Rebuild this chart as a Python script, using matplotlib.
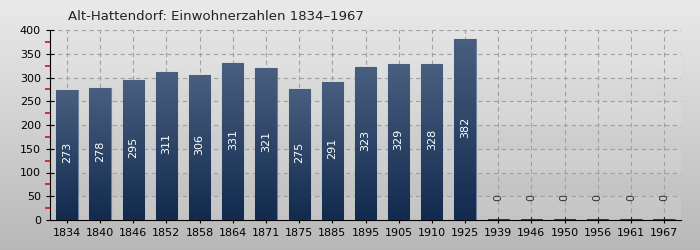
import numpy as np
import matplotlib.pyplot as plt
from matplotlib.colors import LinearSegmentedColormap
from matplotlib.ticker import MultipleLocator

jahre = ['1834', '1840', '1846', '1852', '1858', '1864', '1871', '1875', '1885', '1895',
         '1905', '1910', '1925', '1939', '1946', '1950', '1956', '1961', '1967']
einwohner = [273, 278, 295, 311, 306, 331, 321, 275, 291, 323,
             329, 328, 382, 0, 0, 0, 0, 0, 0]

fig = plt.figure(figsize=(7, 2.5), dpi=100)

# hintergrund mit verlauf
bg = fig.add_axes([0, 0, 1, 1])
grad = np.linspace(0, 1, 256).reshape(-1, 1)
bg.imshow(grad, cmap=LinearSegmentedColormap.from_list('bg', ['#eaeaea', '#b8b8b8']),
          aspect='auto', extent=[0, 1, 0, 1], origin='upper')
bg.axis('off')

ax = fig.add_axes([50 / 700, 30 / 250, 631 / 700, 190 / 250])
ax.patch.set_alpha(0)

# leichte streifen im plotbereich
for k in range(0, 400, 100):
    ax.axhspan(k, k + 50, color='white', alpha=0.10, zorder=0)

x = np.arange(len(jahre))
bw = 0.64
cmap_bar = LinearSegmentedColormap.from_list('bar', ['#112a4d', '#495f80'])
for i, v in enumerate(einwohner):
    h = max(v, 2)
    b = ax.bar(x[i], h, width=bw, color='#2a4060', edgecolor='#6d819b', linewidth=0.8, zorder=3)[0]
    img = ax.imshow(np.linspace(0, 1, 100).reshape(-1, 1), cmap=cmap_bar, origin='lower',
                    extent=[x[i] - bw / 2, x[i] + bw / 2, 0, h], aspect='auto', zorder=3.5)
    img.set_clip_path(b)
    if v > 0:
        ax.text(x[i], v / 2 + 5, str(v), rotation=90, ha='center', va='center',
                color='white', fontsize=8, zorder=5)
    else:
        ax.text(x[i], 48, str(v), rotation=90, ha='center', va='center',
                color='#333333', fontsize=8, zorder=5)

ax.set_xlim(-0.51, len(jahre) - 0.49)
ax.set_ylim(0, 400)
ax.set_xticks(x)
ax.set_xticklabels(jahre, fontsize=8)
ax.yaxis.set_major_locator(MultipleLocator(50))
ax.yaxis.set_minor_locator(MultipleLocator(25))
ax.tick_params(axis='y', labelsize=8, direction='inout', length=6)
ax.tick_params(axis='y', which='minor', color='red', length=3.5, width=1.2, direction='out')
ax.tick_params(axis='x', direction='inout', length=5)
ax.grid(True, which='major', color='#a0a0a0', linestyle=(0, (4, 3)), linewidth=0.8, zorder=1)
ax.set_axisbelow(True)
for s in ['top', 'right']:
    ax.spines[s].set_visible(False)

fig.text(68 / 700, 1 - 16 / 250, 'Alt-Hattendorf: Einwohnerzahlen 1834\u20131967',
         fontsize=9.5, color='#222222', va='center')

fig.savefig('out.png', dpi=100)
